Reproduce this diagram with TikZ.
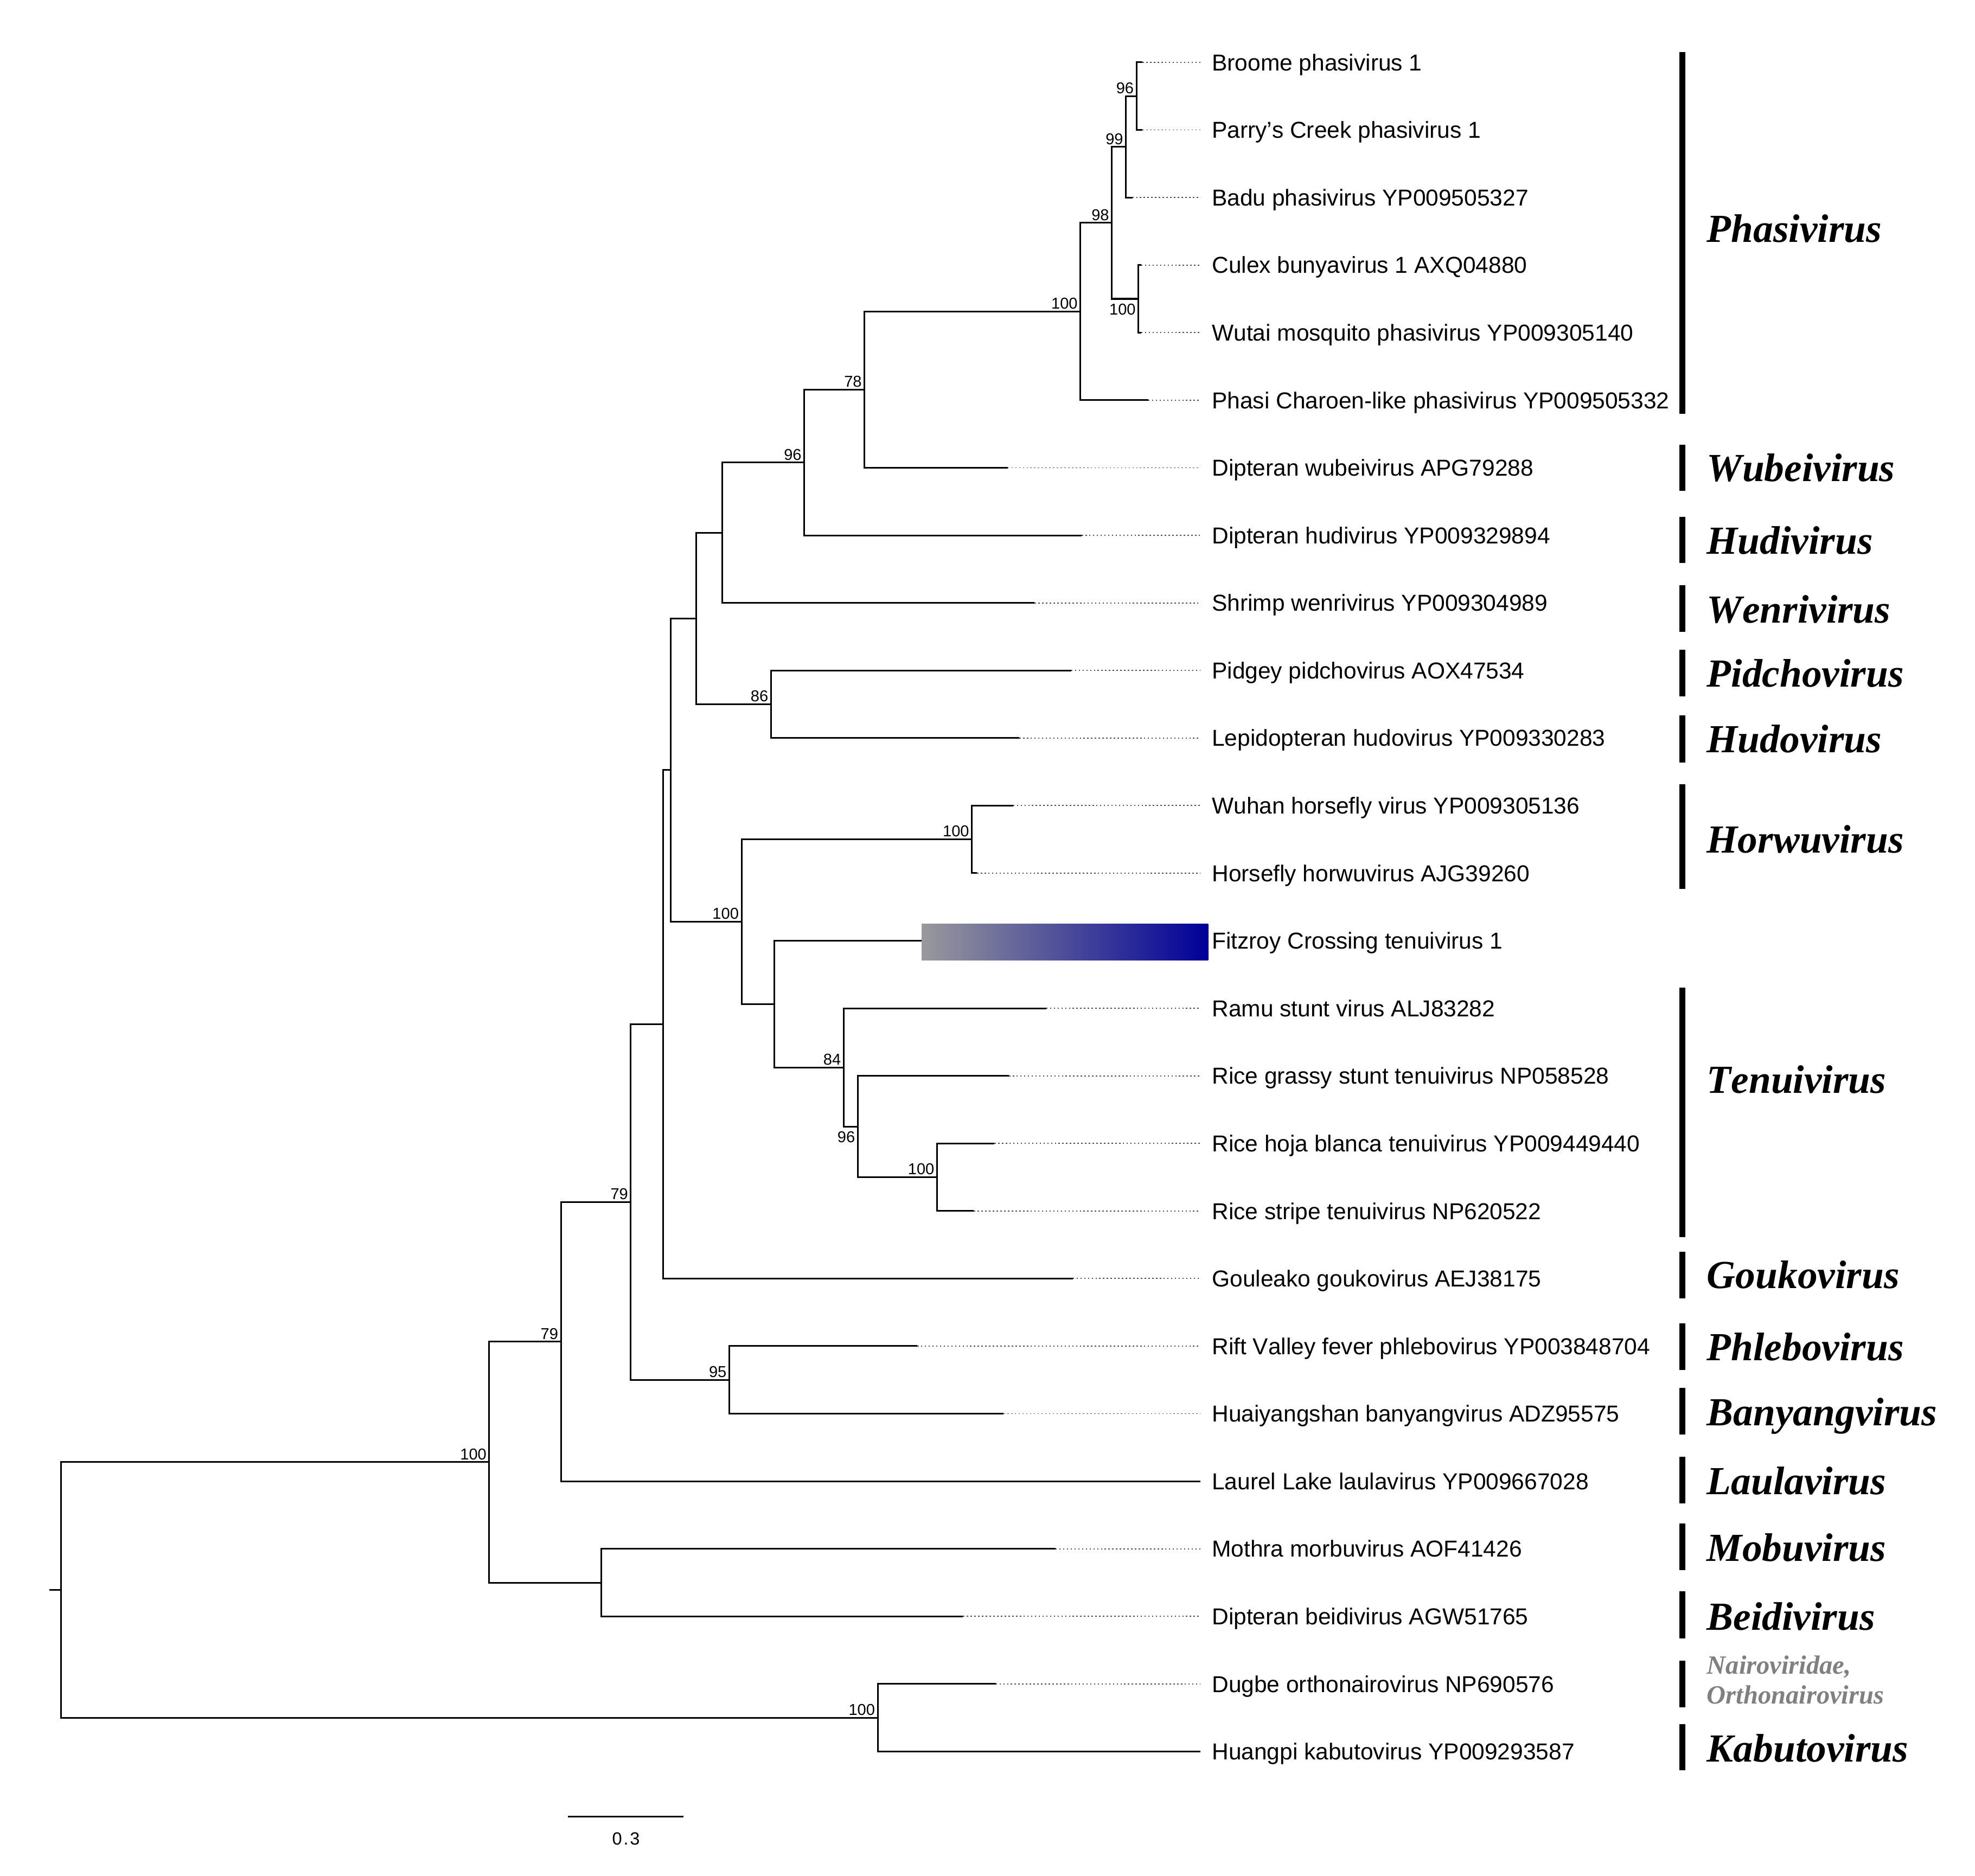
\documentclass[tikz,border=0pt]{standalone}
\usepackage{fontspec}
\setmainfont{Liberation Sans}[Kerning=Off]
\newfontfamily\genusfont{Liberation Serif}[Kerning=Off]
\definecolor{fitgray}{RGB}{153,153,156}
\definecolor{fitblue}{RGB}{0,0,153}
\definecolor{nairogray}{RGB}{128,128,128}
\begin{document}
\begin{tikzpicture}[x=1pt,y=-1pt,
  branch/.style={line width=1.3pt},
  dots/.style={line width=0.8pt,black!70,dash pattern=on 1.1pt off 1.9pt},
  leaf/.style={inner sep=0pt,font=\fontsize{18.3}{18.3}\selectfont},
  boot/.style={inner sep=0pt,font=\fontsize{12.5}{12.5}\selectfont},
  bootup/.style={boot,anchor=base east,xshift=-2pt,yshift=2pt},
  bootdown/.style={boot,anchor=north east,xshift=-2pt,yshift=-3.6pt},
  genus/.style={inner sep=0pt,anchor=base west,font=\genusfont\bfseries\itshape\fontsize{31.6}{31.6}\selectfont},
  genussmall/.style={inner sep=0pt,anchor=base west,text=nairogray,font=\genusfont\bfseries\itshape\fontsize{20.9}{20.9}\selectfont},
  gbar/.style={line width=4.8pt}]
\fill[white] (0,0) rectangle (1568,1489.2);
\useasboundingbox (0,0) rectangle (1568,1489.2);

% leaves: name / index / tip x / label
\foreach \n/\i/\t/\lab in {
  Broome/0/907/Broome phasivirus 1,
  Parry/1/907/Parry's Creek phasivirus 1,
  Badu/2/899/Badu phasivirus YP009505327,
  Culex/3/906/Culex bunyavirus 1 AXQ04880,
  Wutai/4/906/Wutai mosquito phasivirus YP009305140,
  Phasi/5/911.6/Phasi Charoen-like phasivirus YP009505332,
  Wubei/6/800/Dipteran wubeivirus APG79288,
  Hudi/7/858.7/Dipteran hudivirus YP009329894,
  Shrimp/8/821.4/Shrimp wenrivirus YP009304989,
  Pidgey/9/850.4/Pidgey pidchovirus AOX47534,
  Lepid/10/809.2/Lepidopteran hudovirus YP009330283,
  Wuhan/11/804.3/Wuhan horsefly virus YP009305136,
  Horsefly/12/775.6/Horsefly horwuvirus AJG39260,
  Fitzroy/13/731.8/Fitzroy Crossing tenuivirus 1,
  Ramu/14/830.6/Ramu stunt virus ALJ83282,
  RGS/15/801/Rice grassy stunt tenuivirus NP058528,
  RHB/16/789.4/Rice hoja blanca tenuivirus YP009449440,
  RS/17/773.2/Rice stripe tenuivirus NP620522,
  Goul/18/851.7/Gouleako goukovirus AEJ38175,
  Rift/19/728.2/Rift Valley fever phlebovirus YP003848704,
  Huai/20/796.7/Huaiyangshan banyangvirus ADZ95575,
  Laurel/21/953/Laurel Lake laulavirus YP009667028,
  Mothra/22/838/Mothra morbuvirus AOF41426,
  Beidi/23/764.6/Dipteran beidivirus AGW51765,
  Dugbe/24/790.5/Dugbe orthonairovirus NP690576,
  Huangpi/25/953/Huangpi kabutovirus YP009293587}{
  \pgfmathsetmacro\yy{49.5+53.65*\i}
  \coordinate (t\n) at (\t,\yy);
  \coordinate (e\n) at (953,\yy);
  \node[leaf,anchor=base west] (l\n) at (962,\yy+6.55) {\lab};
}

% dotted leaders
\foreach \n in {Broome,Parry,Badu,Culex,Wutai,Phasi,Wubei,Hudi,Shrimp,Pidgey,Lepid,
  Wuhan,Horsefly,Ramu,RGS,RHB,RS,Goul,Rift,Huai,Mothra,Beidi,Dugbe}{
  \draw[dots] (t\n) -- (e\n);
}

% Fitzroy gradient bar
\shade[left color=fitgray,right color=fitblue] (731.8,733.8) rectangle (959.2,762.3);

% internal nodes
\coordinate (nBP)   at (902.3,76.33);
\coordinate (nBPB)  at (893.9,116.56);
\coordinate (nCW)   at (903.8,237.28);
\coordinate (nT5)   at (882.7,176.92);
\coordinate (nPh)   at (857.7,247.33);
\coordinate (n78)   at (686.3,309.37);
\coordinate (n96)   at (638.5,367.21);
\coordinate (nShr)  at (573.2,422.96);
\coordinate (n86)   at (612.1,559.18);
\coordinate (nA)    at (552.8,491.07);
\coordinate (nHor)  at (771.6,666.48);
\coordinate (nRS)   at (743.9,934.73);
\coordinate (n96b)  at (681.0,894.49);
\coordinate (n84)   at (669.8,847.55);
\coordinate (nFit)  at (614.8,797.25);
\coordinate (n100c) at (588.7,731.87);
\coordinate (nB)    at (532.4,611.47);
\coordinate (nC)    at (526.4,813.34);
\coordinate (n95)   at (579.0,1095.68);
\coordinate (n79a)  at (500.8,954.51);
\coordinate (n79b)  at (445.3,1065.33);
\coordinate (nMB)   at (477.2,1256.63);
\coordinate (n100r) at (388.4,1160.98);
\coordinate (nDH)   at (696.8,1363.93);
\coordinate (root)  at (48.5,1262.45);
\coordinate (rootstub) at (39.2,1262.45);

% branches
\foreach \p/\c in {nBP/tBroome,nBP/tParry,nBPB/nBP,nBPB/tBadu,nCW/tCulex,nCW/tWutai,
  nT5/nBPB,nT5/nCW,nPh/nT5,nPh/tPhasi,n78/nPh,n78/tWubei,n96/n78,n96/tHudi,
  nShr/n96,nShr/tShrimp,n86/tPidgey,n86/tLepid,nA/nShr,nA/n86,
  nHor/tWuhan,nHor/tHorsefly,nRS/tRHB,nRS/tRS,n96b/tRGS,n96b/nRS,n84/tRamu,n84/n96b,
  nFit/tFitzroy,nFit/n84,n100c/nHor,n100c/nFit,nB/nA,nB/n100c,nC/nB,nC/tGoul,
  n95/tRift,n95/tHuai,n79a/nC,n79a/n95,n79b/n79a,n79b/tLaurel,nMB/tMothra,nMB/tBeidi,
  n100r/n79b,n100r/nMB,nDH/tDugbe,nDH/tHuangpi,root/n100r,root/nDH}{
  \draw[branch] (\p) |- (\c);
}
\draw[branch] (rootstub) -- (root);

% bootstrap values
\node[bootup]   (bBP)   at (nBP)   {96};
\node[bootup]   (bBPB)  at (nBPB)  {99};
\node[bootup]   (bT5)   at (nT5)   {98};
\node[bootdown] (bCW)   at (nCW)   {100};
\node[bootup]   (bPh)   at (nPh)   {100};
\node[bootup]   (b78)   at (n78)   {78};
\node[bootup]   (b96)   at (n96)   {96};
\node[bootup]   (b86)   at (n86)   {86};
\node[bootup]   (bHor)  at (nHor)  {100};
\node[bootup]   (b100c) at (n100c) {100};
\node[bootup]   (b84)   at (n84)   {84};
\node[bootdown] (b96b)  at (n96b)  {96};
\node[bootup]   (bRS)   at (nRS)   {100};
\node[bootup]   (b79a)  at (n79a)  {79};
\node[bootup]   (b79b)  at (n79b)  {79};
\node[bootup]   (b95)   at (n95)   {95};
\node[bootup]   (b100r) at (n100r) {100};
\node[bootup]   (bDH)   at (nDH)   {100};

% genus bars
\foreach \a/\b in {41.3/328.6,353/389.9,410.4/447,464.7/501.7,515.7/552.8,568.2/605.3,
  622.8/705.7,784.4/982.1,993.8/1030.8,1050.8/1087.7,1101.9/1139,1156.5/1193.8,
  1209.5/1246.5,1263.7/1300.9,1318.8/1355.6,1368.9/1405.8}{
  \draw[gbar] (1335.6,\a) -- (1335.6,\b);
}

% genus names
\node[genus] (gPhasi)  at (1355,192.3)  {Phasivirus};
\node[genus] (gWubei)  at (1355,382.2)  {Wubeivirus};
\node[genus] (gHudi)   at (1355,439.9)  {Hudivirus};
\node[genus] (gWenri)  at (1355,494.5)  {Wenrivirus};
\node[genus] (gPidcho) at (1355,545.6)  {Pidchovirus};
\node[genus] (gHudo)   at (1355,597.5)  {Hudovirus};
\node[genus] (gHorwu)  at (1355,677.3)  {Horwuvirus};
\node[genus] (gTenui)  at (1355,868)    {Tenuivirus};
\node[genus] (gGouko)  at (1355,1023.2) {Goukovirus};
\node[genus] (gPhlebo) at (1355,1080.3) {Phlebovirus};
\node[genus] (gBanyang) at (1355,1131.8) {Banyangvirus};
\node[genus] (gLaula)  at (1355,1186.8) {Laulavirus};
\node[genus] (gMobu)   at (1355,1239.5) {Mobuvirus};
\node[genus] (gBeidi)  at (1355,1294.1) {Beidivirus};
\node[genussmall] (gNairo1) at (1355,1329.3) {Nairoviridae,};
\node[genussmall] (gNairo2) at (1355,1353) {Orthonairovirus};
\node[genus] (gKabuto) at (1355,1398.9) {Kabutovirus};

% scale bar
\coordinate (sbL) at (451.1,1442.3);
\coordinate (sbR) at (542.6,1442.3);
\draw[branch] (sbL) -- (sbR);
\node[inner sep=0pt,anchor=base,font=\fontsize{14}{14}\selectfont] (sbT) at (497,1464.7) {0\kern1.2pt.\kern1.2pt3};
\end{tikzpicture}
\end{document}
